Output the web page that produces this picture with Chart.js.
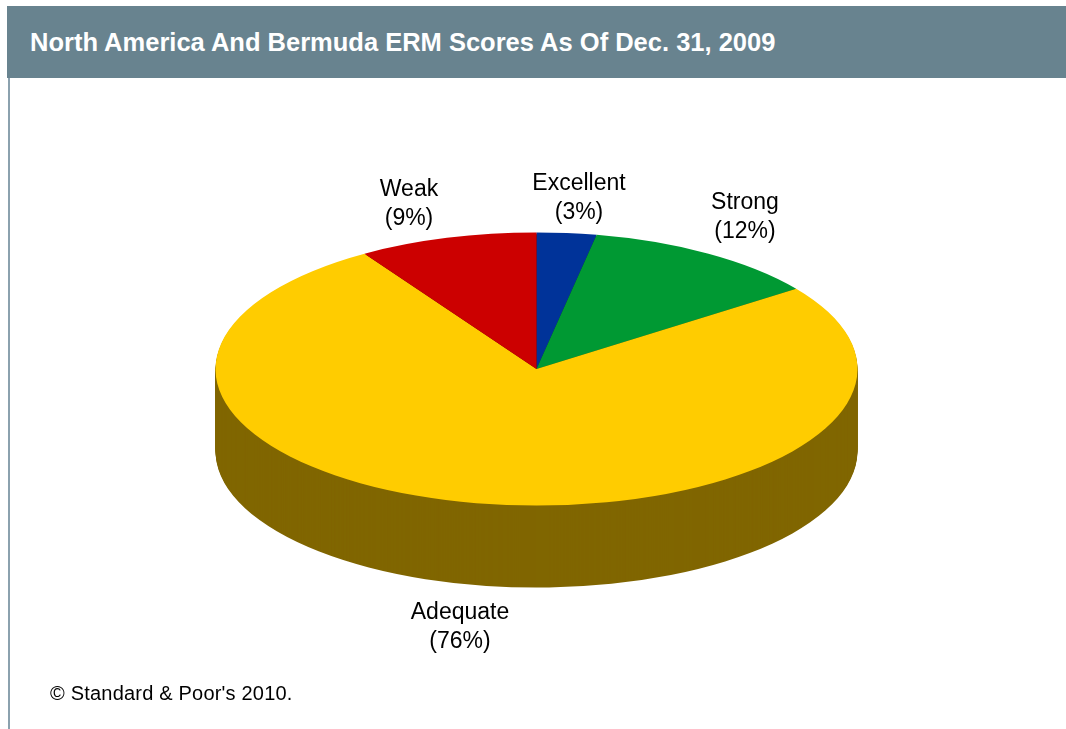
<!DOCTYPE html>
<html>
<head>
<meta charset="utf-8">
<title>North America And Bermuda ERM Scores</title>
<script src="https://cdn.jsdelivr.net/npm/chart.js@4"></script>
<style>
  html, body { margin: 0; padding: 0; background: #fff; }
  body { width: 1066px; height: 729px; position: relative; overflow: hidden; font-family: "Liberation Sans", Arial, sans-serif; }
  #band { position: absolute; left: 7px; top: 6px; width: 1059px; height: 72px; background: #68838f; }
  #title { position: absolute; left: 30px; top: 27px; color: #fff; font-size: 25.5px; font-weight: bold; line-height: 30px; white-space: nowrap; }
  #rule { position: absolute; left: 8px; top: 78px; width: 2px; height: 651px; background: #8ba1ae; }
  #note { position: absolute; left: 50px; top: 682px; color: #000; font-size: 20px; letter-spacing: 0.2px; line-height: 22px; white-space: nowrap; }
  canvas { position: absolute; left: 0; top: 0; }
</style>
</head>
<body>
<div id="band"></div>
<div id="rule"></div>
<div id="title">North America And Bermuda ERM Scores As Of Dec. 31, 2009</div>
<canvas id="pie" width="1066" height="729"></canvas>
<div id="note">© Standard &amp; Poor's 2010.</div>
<script>
const categories = ['Excellent', 'Strong', 'Adequate', 'Weak']
const shares = [3, 12, 76, 9]
const topColors = ['#003399', '#009933', '#ffcc00', '#cc0000']
const sideColors = ['#001a4d', '#004d1a', '#806600', '#660000']

// label centres, first line
const labelSpots = [[579, 184], [745, 203], [460, 613], [409, 190]]

const TILT = 0.4255
const DEPTH = 82

const tiltPlugin = {
  id: 'tilt',
  beforeDatasetsDraw (chart) {
    const ctx = chart.ctx
    const arcs = chart.getDatasetMeta(0).data
    const cy = arcs[0].y
    ctx.save()
    // side wall, stacked from the bottom up
    for (let d = DEPTH; d > 0; d--) {
      arcs.forEach((arc, i) => {
        ctx.fillStyle = sideColors[i]
        ctx.beginPath()
        ctx.moveTo(arc.x, cy + d)
        ctx.ellipse(arc.x, cy + d, arc.outerRadius, arc.outerRadius * TILT, 0, arc.startAngle, arc.endAngle)
        ctx.closePath()
        ctx.fill()
      })
    }
    ctx.restore()
    ctx.save()
    ctx.translate(0, cy)
    ctx.scale(1, TILT)
    ctx.translate(0, -cy)
  },
  afterDatasetsDraw (chart) {
    const ctx = chart.ctx
    ctx.restore()
    ctx.save()
    ctx.fillStyle = '#000'
    ctx.font = '23px "Liberation Sans", Arial, sans-serif'
    ctx.textAlign = 'center'
    ctx.textBaseline = 'middle'
    categories.forEach((name, i) => {
      const [x, y] = labelSpots[i]
      ctx.fillText(name, x, y)
      ctx.fillText('(' + shares[i] + '%)', x, y + 29)
    })
    ctx.restore()
  }
}

new Chart(document.getElementById('pie'), {
  type: 'pie',
  data: {
    labels: categories,
    datasets: [{
      data: shares,
      backgroundColor: topColors,
      borderWidth: 0
    }]
  },
  options: {
    responsive: false,
    animation: false,
    layout: { padding: { left: 215.5, right: 208.5, top: 48, bottom: 39 } },
    plugins: { legend: { display: false }, title: { display: false }, tooltip: { enabled: false } },
    events: []
  },
  plugins: [tiltPlugin]
})
</script>
</body>
</html>
